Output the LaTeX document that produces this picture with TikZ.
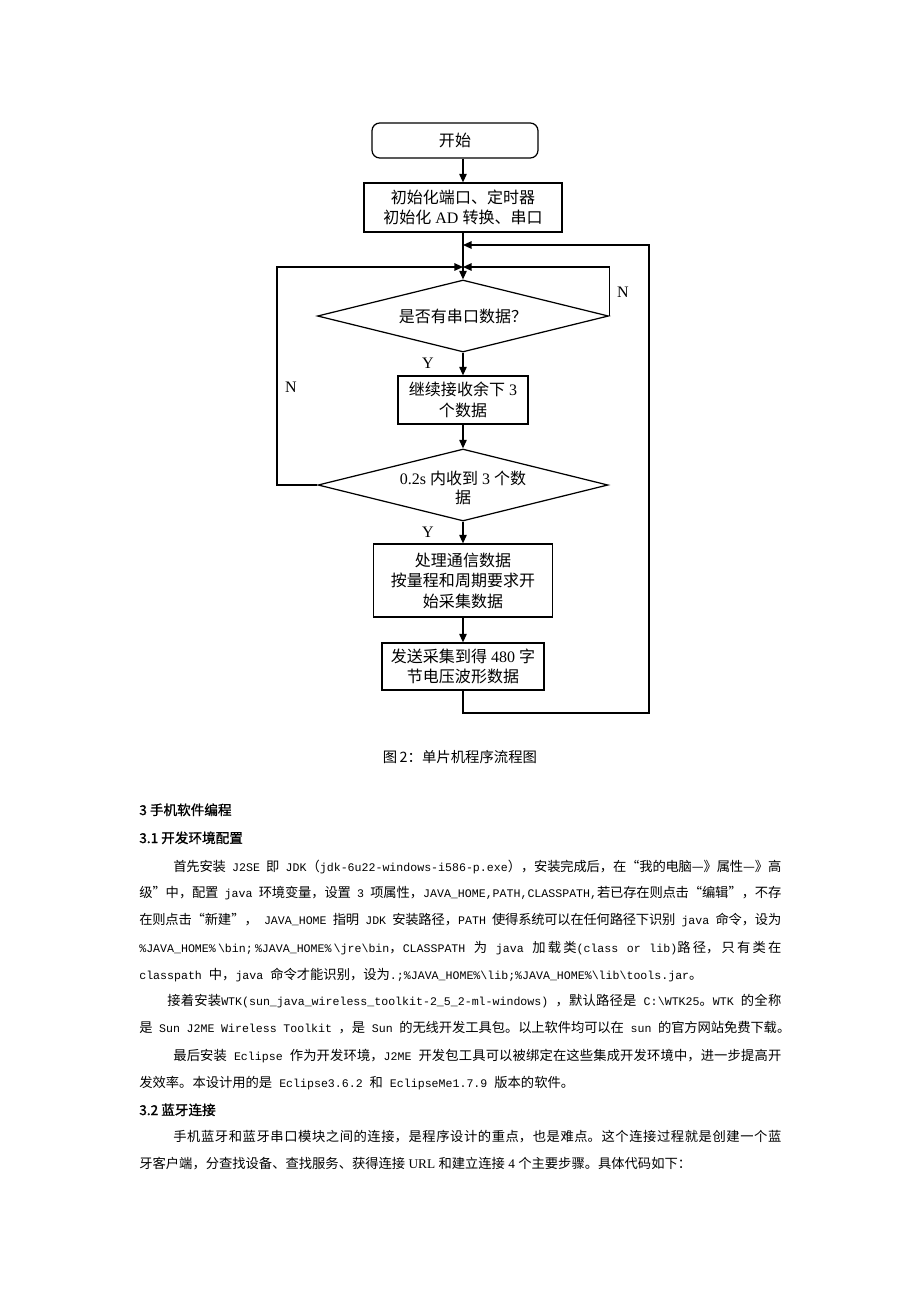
\documentclass[tikz,border=0pt]{standalone}
\usepackage{fontspec}
\usetikzlibrary{arrows.meta,shapes.geometric,calc}
\newfontfamily\cjk{Noto Sans CJK SC}
\newfontfamily\cjkb[FakeBold=1.2]{Noto Sans CJK SC}
\newfontfamily\tnr{Liberation Serif}
\newfontfamily\mon{Liberation Mono}
\XeTeXlinebreaklocale "zh"
\XeTeXlinebreakskip=0pt plus 3pt minus 0.4pt
\newcommand\pxu{0.6467pt}
\newcommand\fcf{\cjk\fontsize{10.35}{13.3}\selectfont}
\newcommand\btf{\cjk\fontsize{8.6}{10}\selectfont}
\newcommand\hdf{\cjkb\fontsize{8.8}{10}\selectfont}
\newcommand\ml[1]{{\mon\fontsize{7.5}{10}\selectfont #1}}
\newcommand\tr[1]{{\tnr #1}}
\newcommand\jline[2]{\parbox[b]{#1}{\parindent=0pt\tolerance=9999\parfillskip=0pt\relax #2}}
\tikzset{
  box/.style={draw, line width=0.8pt, inner sep=0pt, align=center, font=\fcf},
  dia/.style={draw, diamond, line width=0.8pt, inner sep=0pt},
  arr/.style={line width=0.8pt, -{Triangle[length=5.5pt,width=4.8pt]}},
  txt/.style={anchor=base west, inner sep=0pt, font=\btf},
  hd/.style={anchor=base west, inner sep=0pt, font=\hdf},
  yn/.style={inner sep=0pt, font=\tnr\fontsize{10.35}{12}\selectfont}
}
\begin{document}
\begin{tikzpicture}[x=0.6467pt, y=-0.6467pt]
\useasboundingbox (0,0) rectangle (920,1302);
\fill[white] (0,0) rectangle (920,1302);
% flowchart
\node[box, rounded corners=5pt, minimum width=166*\pxu, minimum height=35*\pxu] (start) at (455,140.5) {开始};
\node[box, minimum width=198*\pxu, minimum height=49*\pxu] (b2) at (463,207.5) {初始化端口、定时器\\初始化\tr{ AD }转换、串口};
\node[dia, minimum width=291*\pxu, minimum height=72*\pxu] (d1) at (463,316) {};
\node[inner sep=0pt, font=\fcf] (d1t) at (d1.center) {是否有串口数据？};
\node[box, minimum width=130*\pxu, minimum height=48*\pxu] (b3) at (463,400) {继续接收余下\tr{ 3}\\个数据};
\node[dia, minimum width=290*\pxu, minimum height=72*\pxu] (d2) at (463,485) {};
\node[inner sep=0pt, align=center, font=\cjk\fontsize{10.35}{11.8}\selectfont] (d2t) at (463,488) {\tr{0.2s }内收到\tr{ 3 }个数\\据};
\node[box, minimum width=179*\pxu, minimum height=73*\pxu] (b4) at (463,580.5) {处理通信数据\\按量程和周期要求开\\始采集数据};
\node[box, minimum width=162*\pxu, minimum height=47*\pxu] (b5) at (463,666.5) {发送采集到得\tr{ 480 }字\\节电压波形数据};
\coordinate (m1) at (463,267);
\coordinate (m2) at (463,245);
\coordinate (cL) at (277,485);
\coordinate (cB) at (649,713);
\draw[arr] (start.south -| b2.north) -- (b2.north);
\draw[arr] (b2.south) -- (d1.north);
\draw[arr] (d1.east) |- (m1);
\draw[arr] (d2.west) -- (cL) |- (m1);
\draw[arr] (d1.south) -- (b3.north);
\draw[arr] (b3.south) -- (d2.north);
\draw[arr] (d2.south) -- (b4.north);
\draw[arr] (b4.south) -- (b5.north);
\draw[arr] (b5.south) |- (cB) |- (m2);
\node[yn] (n1) at (623,292) {N};
\node[yn] (n2) at (291,387) {N};
\node[yn] (y1) at (428,363) {Y};
\node[yn] (y2) at (428,532) {Y};
\node[inner sep=0pt, font=\cjk\fontsize{9.3}{11}\selectfont] (cap) at (460,757) {图\,2：单片机程序流程图};
% text
\node[hd] (h1) at (139,815) {3 手机软件编程};
\node[hd] (h2) at (139,843) {3.1 开发环境配置};
\node[txt] (p1) at (173,871) {\jline{393.2pt}{首先安装\ml{ J2SE }即\ml{ JDK}（\ml{jdk-6u22-windows-i586-p.exe}），安装完成后，在“我的电脑—》属性—》高}};
\node[txt] (p2) at (139,897) {\jline{415.2pt}{级”中，配置\ml{ java }环境变量，设置\ml{ 3 }项属性，\ml{JAVA\_HOME,PATH,CLASSPATH,}若已存在则点击“编辑”，不存}};
\node[txt] (p3) at (139,924) {\jline{415.2pt}{在则点击“新建”，\ml{ JAVA\_HOME }指明\ml{ JDK }安装路径，\ml{PATH }使得系统可以在任何路径下识别\ml{ java }命令，设为}};
\node[txt] (p4) at (139,952) {\jline{415.2pt}{\ml{\%JAVA\_HOME\%\textbackslash bin;\%JAVA\_HOME\%\textbackslash jre\textbackslash bin}，\ml{CLASSPATH }为\ml{ java }加载类\ml{(class or lib)}路径，只有类在}};
\node[txt] (p5) at (139,979) {\ml{classpath }中，\ml{java }命令才能识别，设为\ml{.;\%JAVA\_HOME\%\textbackslash lib;\%JAVA\_HOME\%\textbackslash lib\textbackslash tools.jar}。};
\node[txt] (p6) at (167,1005) {\jline{397.1pt}{接着安装\ml{WTK(sun\_java\_wireless\_toolkit-2\_5\_2-ml-windows) }，默认路径是\ml{ C:\textbackslash WTK25}。\ml{WTK }的全称}};
\node[txt] (p7) at (139,1032) {\jline{421pt}{是\ml{ Sun J2ME Wireless Toolkit }，是\ml{ Sun }的无线开发工具包。以上软件均可以在\ml{ sun }的官方网站免费下载。}};
\node[txt] (p8) at (173,1060) {\jline{393.2pt}{最后安装\ml{ Eclipse }作为开发环境，\ml{J2ME }开发包工具可以被绑定在这些集成开发环境中，进一步提高开}};
\node[txt] (p9) at (139,1087) {发效率。本设计用的是\ml{ Eclipse3.6.2 }和\ml{ EclipseMe1.7.9 }版本的软件。};
\node[hd] (h3) at (139,1115) {3.2 蓝牙连接};
\node[txt] (p10) at (173,1141) {\jline{393.2pt}{手机蓝牙和蓝牙串口模块之间的连接，是程序设计的重点，也是难点。这个连接过程就是创建一个蓝}};
\node[txt] (p11) at (139,1168) {牙客户端，分查找设备、查找服务、获得连接\tr{ URL }和建立连接\tr{ 4 }个主要步骤。具体代码如下：};
\end{tikzpicture}
\end{document}
